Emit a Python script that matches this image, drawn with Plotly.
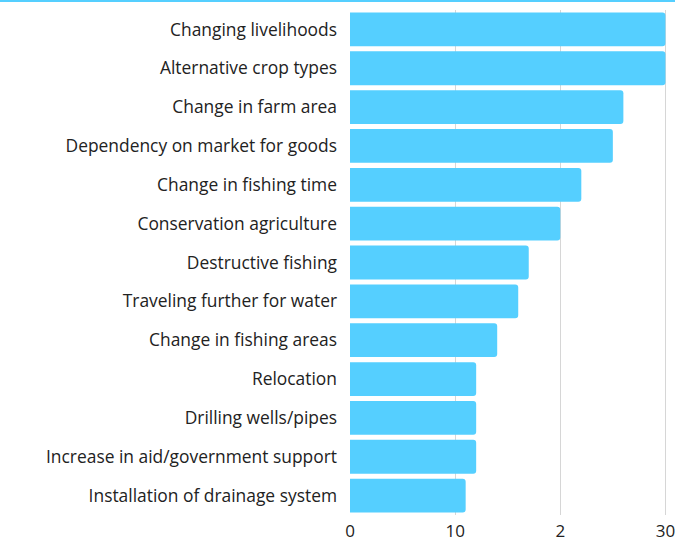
import plotly.graph_objects as go

categories = [
    "Changing livelihoods",
    "Alternative crop types",
    "Change in farm area",
    "Dependency on market for goods",
    "Change in fishing time",
    "Conservation agriculture",
    "Destructive fishing",
    "Traveling further for water",
    "Change in fishing areas",
    "Relocation",
    "Drilling wells/pipes",
    "Increase in aid/government support",
    "Installation of drainage system",
]
values = [30, 30, 26, 25, 22, 20, 17, 16, 14, 12, 12, 12, 11]
tick_vals = [0, 10, 20, 30]
tick_text = ["0", "10", "2", "30"]

fig = go.Figure(go.Bar(
    x=values,
    y=categories,
    orientation="h",
    marker=dict(color="#55CFFF", line=dict(width=0)),
    hoverinfo="x+y",
))

fig.update_layout(
    width=675, height=540,
    margin=dict(l=350, r=8, t=10, b=25, pad=0),
    paper_bgcolor="white", plot_bgcolor="white",
    font=dict(family="Open Sans", size=17.4, color="#222222"),
    bargap=0.13,
    barcornerradius=3,
    showlegend=False,
    shapes=[dict(type="line", xref="paper", yref="paper",
                 x0=-1.2, x1=1.1, y0=1.0178, y1=1.0178,
                 line=dict(color="#55CFFF", width=2))],
)
fig.update_xaxes(
    range=[0, 30.15], tickvals=tick_vals, ticktext=tick_text,
    showgrid=True, gridcolor="#d6d6d6", gridwidth=1,
    zeroline=False, showline=False, ticks="", ticklabelstandoff=4,
    ticklabeloverflow="allow",
    automargin=False,
    tickfont=dict(size=17, color="#222222"),
)
fig.update_yaxes(
    categoryorder="array", categoryarray=categories[::-1],
    showgrid=False, zeroline=False, showline=False, ticks="",
    ticklabelstandoff=12, automargin=False,
    tickfont=dict(size=17.4, color="#222222"),
)

fig.write_html("out.html", config={"displayModeBar": False},
               post_script="document.body.style.margin='0';")
